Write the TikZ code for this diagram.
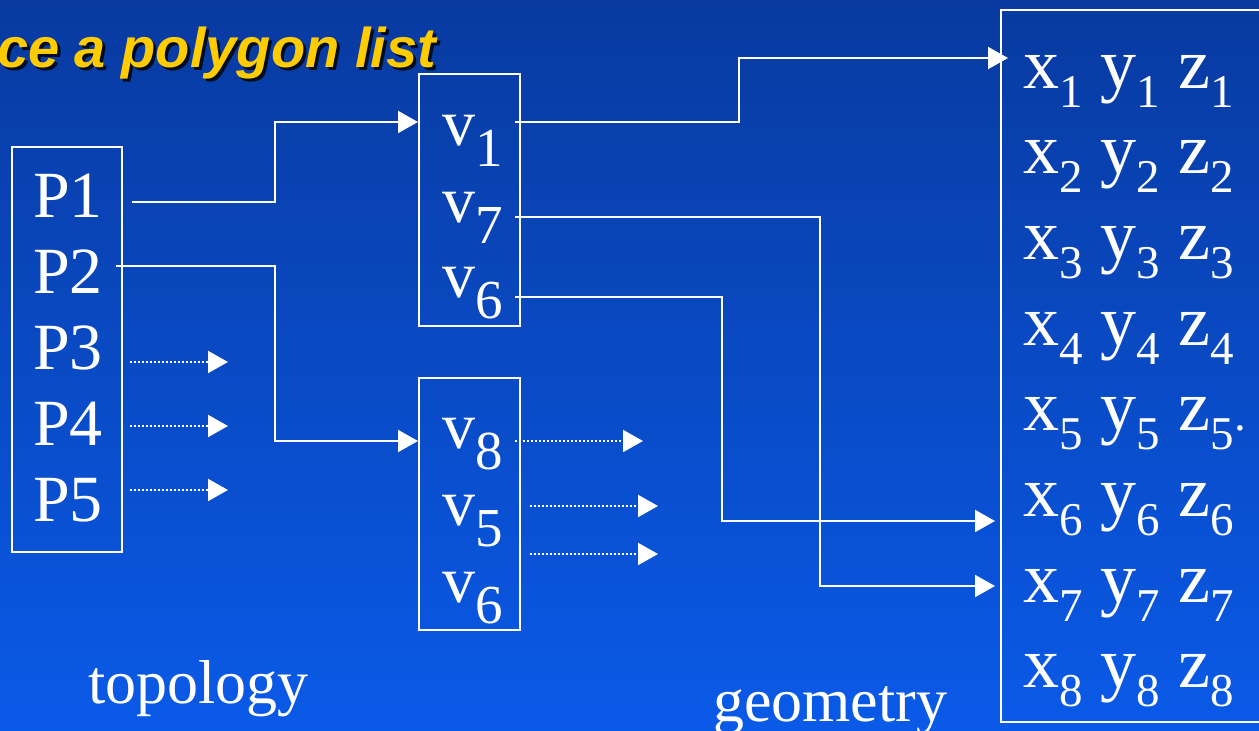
\documentclass[tikz,border=0pt]{standalone}
\usepackage{fontspec}
\setmainfont{Liberation Serif}
\newfontfamily\titlefont{Liberation Sans}
\usepackage{tikz}
\usetikzlibrary{arrows.meta,calc,positioning}
\definecolor{slidetop}{RGB}{8,58,160}
\definecolor{slidebot}{RGB}{10,90,232}
\definecolor{titleyellow}{RGB}{255,204,0}
% subscripts of the vertex and coordinate lists
\newcommand{\vsub}[1]{\raisebox{-21pt}{\fontsize{55}{55}\selectfont #1}}
\newcommand{\csub}[1]{\raisebox{-19pt}{\fontsize{47}{47}\selectfont #1}}
\newcommand{\crow}[1]{x\csub{#1} y\csub{#1} z\csub{#1}}

\tikzset{
  frame/.style={draw=white, line width=2pt, inner sep=0pt},
  entry/.style={text=white, anchor=base west, inner sep=0pt, font=\fontsize{66}{70}\selectfont},
  coordentry/.style={entry, font=\fontsize{72}{76}\selectfont},
  caption/.style={entry, font=\fontsize{62}{66}\selectfont},
  titletext/.style={anchor=base west, inner sep=0pt, font=\titlefont\bfseries\itshape\fontsize{56}{60}\selectfont},
  link/.style={draw=white, line width=2pt, -{Triangle[length=20pt,width=22pt]}},
  dotlink/.style={link, dash pattern=on 2pt off 2pt}
}

\begin{document}
\begin{tikzpicture}[x=1pt,y=-1pt]
        \useasboundingbox (0,0) rectangle (1259,731);
        % Slide background
        \shade[top color=slidetop, bottom color=slidebot] (0,0) rectangle (1259,731);
        % Title
        \node[titletext, text=black, opacity=0.8] (titleshadow) at (0,70) {ce a polygon list};
        \node[titletext, text=titleyellow] (title) at (-3,67) {ce a polygon list};
        % Boxes
        \node[frame, minimum width=110pt, minimum height=405pt] (topo) at (67,349.5) {};
        \node[frame, minimum width=101pt, minimum height=252pt] (vtop) at (469.5,200) {};
        \node[frame, minimum width=101pt, minimum height=252pt] (vbot) at (469.5,504) {};
        \node[frame, minimum width=264pt, minimum height=712pt] (geo) at (1133,366) {};
        % Polygon list
        \foreach \i/\y in {1/217,2/293,3/369,4/445,5/521}
          \node[entry] (P\i) at (33,\y) {P\i};
        % Vertex lists
        \node[entry] (v1) at (442,145) {v\vsub{1}};
        \node[entry] (v7) at (442,222) {v\vsub{7}};
        \node[entry] (v6) at (442,297) {v\vsub{6}};
        \node[entry] (v8) at (442,448) {v\vsub{8}};
        \node[entry] (v5) at (442,525) {v\vsub{5}};
        \node[entry] (v6b) at (442,602) {v\vsub{6}};
        % Coordinate list
        \foreach \i in {1,...,8}
          \node[coordentry] (c\i) at (1023,{88+85.7*(\i-1)}) {\crow{\i}};
        \node[entry, font=\fontsize{47}{47}\selectfont] (dot5) at (c5.base east) {.};
        % Labels
        \node[caption] (topology) at (88,703) {topology};
        \node[caption] (geometry) at (713,721) {geometry};
        % Define points
        \coordinate (p1out) at (132,202);
        \coordinate (p2out) at (116,266);
        \coordinate (v1out) at (515,122);
        \coordinate (v7out) at (515,217);
        \coordinate (v6out) at (515,297);
        \coordinate (v1in) at (vtop.west |- 0,122);
        \coordinate (v8in) at (vbot.west |- 0,441);
        \coordinate (x1in) at (1008,58);
        \coordinate (x6in) at (995,521);
        \coordinate (x7in) at (995,586);
        % Draw the links
        \draw[link] (p1out) -- ++(143,0) |- (v1in);
        \draw[link] (p2out) -- ++(159,0) |- (v8in);
        \draw[link] (v1out) -- ++(224,0) |- (x1in);
        \draw[link] (v7out) -- ++(305,0) |- (x7in);
        \draw[link] (v6out) -- ++(207,0) |- (x6in);
        % Links not followed
        \foreach \y in {362,426,490}
          \draw[dotlink] (130,\y) coordinate (s\y) -- (228,\y) coordinate (e\y);
        \draw[dotlink] (515,441) coordinate (s8) -- (643,441) coordinate (e8);
        \draw[dotlink] (530,506) coordinate (s5) -- (658,506) coordinate (e5);
        \draw[dotlink] (530,554) coordinate (s6) -- (658,554) coordinate (e6);
      \end{tikzpicture}
\end{document}
